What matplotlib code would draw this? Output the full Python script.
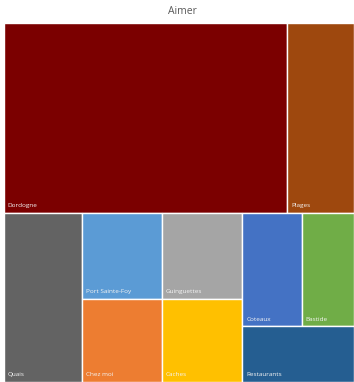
import matplotlib
matplotlib.use("Agg")
import matplotlib.pyplot as plt
from matplotlib.patches import Rectangle

plt.rcParams['font.family'] = ['Open Sans', 'DejaVu Sans']

# data (share of answers)
labels = ["Dordogne", "Plages", "Quais", "Port Sainte-Foy", "Chez moi",
          "Guinguettes", "Caches", "Coteaux", "Bastide", "Restaurants"]
values = [43, 10, 10.5, 5.5, 5.3, 5.5, 5.3, 5.4, 4.7, 4.9]
colors = ["#7B0000", "#9E480E", "#636363", "#5B9BD5", "#ED7D31",
          "#A5A5A5", "#FFC000", "#4472C4", "#70AD47", "#255E91"]

# how the tiles are grouped (like Excel does it): 'v' stacks top->bottom, 'h' goes left->right
layout = ('v', [('h', [0, 1]),
                ('h', [2, ('v', [3, 4]), ('v', [5, 6]),
                       ('v', [('h', [7, 8]), 9])])])


def total(node):
    if isinstance(node, int):
        return values[node]
    return sum(total(c) for c in node[1])


def place(node, x, y, w, h, out):
    # y is the top edge, axis is inverted
    if isinstance(node, int):
        out.append((node, x, y, w, h))
        return
    d, kids = node
    s = total(node)
    for c in kids:
        f = total(c) / s
        if d == 'h':
            place(c, x, y, w * f, h, out)
            x += w * f
        else:
            place(c, x, y, w, h * f, out)
            y += h * f


rects = []
place(layout, 0, 0, 1, 1, rects)

fig = plt.figure(figsize=(3.54, 3.82), dpi=100)
ax = fig.add_axes([3.5 / 354, 0.5 / 382, 350 / 354, 359 / 382])
ax.set_xlim(0, 1)
ax.set_ylim(1, 0)
ax.axis('off')

for i, x, y, w, h in rects:
    ax.add_patch(Rectangle((x, y), w, h, facecolor=colors[i],
                           edgecolor='white', linewidth=1.0))
    ax.annotate(labels[i], (x, y + h), xytext=(3, 3), textcoords='offset points',
                color='#F4F4F4', fontsize=4.6, ha='left', va='bottom')

fig.text(182 / 354, 1 - 12 / 382, "Aimer", ha='center', va='center',
         fontsize=7.5, color='#595959')

fig.savefig("out.png", dpi=100)
